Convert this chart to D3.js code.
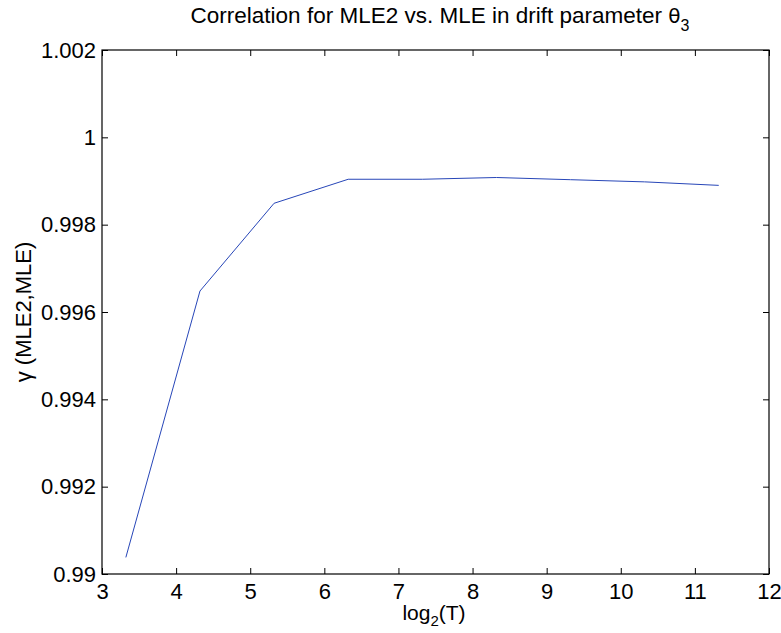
<!DOCTYPE html>
<html>
<head>
<meta charset="utf-8">
<script src="https://cdn.jsdelivr.net/npm/d3@7"></script>
<style>
  body { margin: 0; background: #fff; }
  text { font-family: "Liberation Sans", Arial, sans-serif; fill: #000; }
</style>
</head>
<body>
<div id="myChart"></div>
<script>
let width = 781;
let height = 633;

// Data
const logT = [3.3219, 4.3219, 5.3219, 6.3219, 7.3219, 8.3219, 9.3219, 10.3219, 11.3219];
const gamma = [0.99038, 0.99648, 0.99849, 0.99904, 0.99904, 0.99908, 0.99903, 0.99898, 0.99890];
const xTicks = [3, 4, 5, 6, 7, 8, 9, 10, 11, 12];
const yTicks = [0.99, 0.992, 0.994, 0.996, 0.998, 1, 1.002];

let margin = { left: 102, right: 12, top: 50, bottom: 59 };

let svg = d3.select("#myChart").append("svg")
  .attr("width", width)
  .attr("height", height);

let x = d3.scaleLinear().domain([3, 12]).range([margin.left, width - margin.right]);
let y = d3.scaleLinear().domain([0.99, 1.002]).range([height - margin.bottom, margin.top]);

let tickLen = 6;

// box
svg.append("rect")
  .attr("x", x(3)).attr("y", y(1.002))
  .attr("width", x(12) - x(3)).attr("height", y(0.99) - y(1.002))
  .attr("fill", "none").attr("stroke", "#000").attr("stroke-width", 1.2);

// x axis (bottom, ticks inside) + top ticks
svg.append("g")
  .attr("transform", `translate(0,${y(0.99)})`)
  .call(d3.axisBottom(x).tickValues(xTicks).tickSize(-tickLen).tickPadding(9).tickFormat(d3.format("d")))
  .call(g => g.select(".domain").remove())
  .call(g => g.selectAll("text").style("font-size", "22px"));

svg.append("g")
  .attr("transform", `translate(0,${y(1.002)})`)
  .call(d3.axisTop(x).tickValues(xTicks).tickSize(-tickLen).tickFormat(""))
  .call(g => g.select(".domain").remove());

// y axis (left, ticks inside) + right ticks
svg.append("g")
  .attr("transform", `translate(${x(3)},0)`)
  .call(d3.axisLeft(y).tickValues(yTicks).tickSize(-tickLen).tickPadding(6).tickFormat(d => d3.format("")(+d.toFixed(3))))
  .call(g => g.select(".domain").remove())
  .call(g => g.selectAll("text").style("font-size", "22px"));

svg.append("g")
  .attr("transform", `translate(${x(12)},0)`)
  .call(d3.axisRight(y).tickValues(yTicks).tickSize(-tickLen).tickFormat(""))
  .call(g => g.select(".domain").remove());

// line
svg.append("path")
  .datum(logT.map((t, i) => [t, gamma[i]]))
  .attr("fill", "none")
  .attr("stroke", "#2746b8")
  .attr("stroke-width", 1)
  .attr("d", d3.line().x(d => x(d[0])).y(d => y(d[1])));

// title
let title = svg.append("text")
  .attr("x", 440).attr("y", 23)
  .attr("text-anchor", "middle")
  .style("font-size", "22.5px");
title.append("tspan").text("Correlation for MLE2 vs. MLE in drift parameter ");
title.append("tspan").text("θ").style("font-family", "'DejaVu Sans', sans-serif").style("font-size", "20px");
title.append("tspan").text("3").attr("dy", 8).style("font-size", "16px");

// x label
let xl = svg.append("text")
  .attr("x", 434).attr("y", 620)
  .attr("text-anchor", "middle")
  .style("font-size", "21px");
xl.append("tspan").text("log");
xl.append("tspan").text("2").attr("dy", 6).style("font-size", "15px");
xl.append("tspan").text("(T)").attr("dy", -6);

// y label
svg.append("text")
  .attr("transform", `translate(31,${(y(0.99) + y(1.002)) / 2}) rotate(-90)`)
  .attr("text-anchor", "middle")
  .style("font-size", "22px")
  .text("γ (MLE2,MLE)");
</script>
</body>
</html>
